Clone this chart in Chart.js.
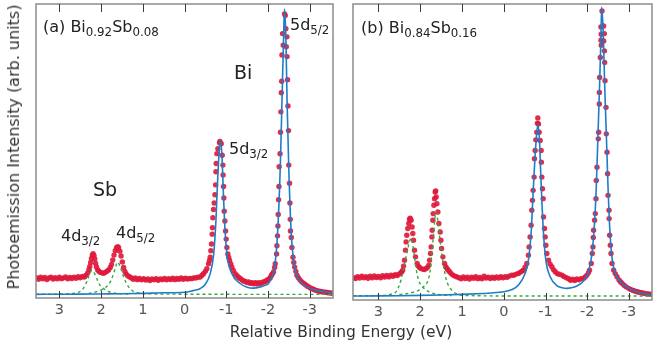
<!DOCTYPE html>
<html lang="en">
<head>
<meta charset="UTF-8">
<title>Bi-Sb photoemission</title>
<script src="https://cdn.jsdelivr.net/npm/chart.js"></script>
<style>
    body { margin: 0; background: #fff; font-family: 'DejaVu Sans', sans-serif; }
    #wrap { position: relative; width: 666px; height: 351px; overflow: hidden; }
    canvas { position: absolute; left: 0; top: 0; }
    .t { position: absolute; white-space: nowrap; color: #222; line-height: 1; }
    .t sub { font-size: 0.74em; vertical-align: -0.3em; line-height: 0; }
    .axis { color: #333; }
</style>
</head>
<body>
<div id="wrap">
    <canvas id="chartA" width="666" height="351"></canvas>
    <canvas id="chartB" width="666" height="351"></canvas>

    <div class="t" style="left:43px;top:19px;font-size:16px">(a) Bi<sub>0.92</sub>Sb<sub>0.08</sub></div>
    <div class="t" style="left:234px;top:63px;font-size:19px">Bi</div>
    <div class="t" style="left:290px;top:17px;font-size:16px">5d<sub>5/2</sub></div>
    <div class="t" style="left:229px;top:141px;font-size:16px">5d<sub>3/2</sub></div>
    <div class="t" style="left:93px;top:180px;font-size:19px">Sb</div>
    <div class="t" style="left:61px;top:228px;font-size:16px">4d<sub>3/2</sub></div>
    <div class="t" style="left:116px;top:225px;font-size:16px">4d<sub>5/2</sub></div>
    <div class="t" style="left:361px;top:20px;font-size:16px">(b) Bi<sub>0.84</sub>Sb<sub>0.16</sub></div>

    <div class="t axis" style="left:14px;top:147px;font-size:16px;transform:translate(-50%,-50%) rotate(-90deg)">Photoemission Intensity (arb. units)</div>
    <div class="t axis" style="left:341px;top:333px;font-size:15.5px;transform:translate(-50%,-50%)">Relative Binding Energy (eV)</div>
</div>

<script>
// tick labels of the energy axis (eV)
const xTicks = [3, 2, 1, 0, -1, -2, -3];

// ---- panel (a) Bi0.92Sb0.08 : [energy eV, intensity] ----
const aDots = [
    [3.55,20.5],[3.50,19],[3.45,21],[3.40,19.5],[3.35,20.8],[3.30,18.8],[3.25,20.2],[3.20,21.2],[3.15,19.2],[3.10,20.6],
    [3.05,19.4],[3.00,21],[2.95,19.6],[2.90,20.4],[2.85,21.4],[2.80,19.5],[2.75,20.8],[2.70,19.8],[2.65,21.2],[2.60,20],
    [2.55,21.5],[2.50,20.4],[2.45,21.8],[2.40,21.2],
    [2.36,23],[2.32,25.5],[2.29,29],[2.27,32],[2.25,36],[2.23,40],[2.21,43.5],[2.19,45],[2.17,43],[2.15,39.5],
    [2.13,35],[2.11,31.5],[2.08,28.5],[2.05,27],[2.02,26],[1.98,25.5],[1.94,25],[1.90,26],[1.86,27],[1.82,28.5],
    [1.78,31],[1.75,34],[1.72,38.5],[1.69,43.5],[1.66,48],[1.63,51],[1.60,52],[1.58,51],[1.55,47.5],[1.52,42.5],
    [1.49,36.5],[1.46,31],[1.43,27],[1.40,24.5],[1.36,22.5],[1.32,21.5],
    [1.28,20.5],[1.23,19],[1.18,20.2],[1.13,18.6],[1.08,19.8],[1.03,18.4],[0.98,19.6],[0.93,18.2],[0.88,19.4],[0.83,17.8],
    [0.78,19.2],[0.73,18.4],[0.68,19.6],[0.63,18],[0.58,19.4],[0.53,18.6],[0.48,19.8],[0.43,18.4],[0.38,19.6],[0.33,18.8],
    [0.28,20],[0.23,18.6],[0.18,19.8],[0.13,19],[0.08,20.2],[0.03,19],[-0.02,20],[-0.07,19.2],[-0.12,19.8],[-0.17,19.6],
    [-0.22,20.4],[-0.27,20.2],[-0.32,21],[-0.376,21.3],[-0.42,23],[-0.456,24.7],[-0.50,27],[-0.536,29.7],[-0.576,34.7],
    [-0.60,38],[-0.616,41.3],[-0.632,48],[-0.648,54.7],[-0.664,64.7],[-0.67,71.3],[-0.68,81.3],[-0.696,89.7],[-0.712,96.3],
    [-0.73,104.7],[-0.745,114.7],[-0.753,128],[-0.76,136.3],[-0.777,146.3],[-0.80,151.3],[-0.84,157.3],[-0.85,158.7],
    [-0.88,156.3],[-0.904,144.7],[-0.92,134.7],[-0.925,124.7],[-0.936,113],[-0.944,101.3],[-0.952,88],[-0.968,78],
    [-0.984,68],[-1.0,59.7],[-1.016,51.3],[-1.04,44.7],[-1.06,41],[-1.08,38],[-1.11,34.5],[-1.136,31.3],[-1.17,28],
    [-1.216,24.7],[-1.26,22.5],[-1.30,20.8],[-1.336,19.7],[-1.38,18.2],[-1.42,17.2],[-1.46,16.8],[-1.50,15.6],[-1.54,16.2],
    [-1.58,14.8],[-1.62,15.6],[-1.66,14.4],[-1.70,15.4],[-1.74,14.2],[-1.78,15.6],[-1.82,14.8],[-1.86,15.8],[-1.90,16.2],
    [-1.935,16.8],[-1.97,17.8],[-2.00,18.6],[-2.03,19.4],[-2.055,20.5],[-2.08,22.5],[-2.10,24],[-2.135,26.3],[-2.16,31],
    [-2.175,34.7],[-2.207,44.7],[-2.216,53],[-2.23,63],[-2.24,73],[-2.247,84.7],[-2.256,99.7],[-2.264,113],[-2.27,133],
    [-2.29,146.3],[-2.30,168],[-2.31,188.7],[-2.32,208],[-2.33,219.7],[-2.336,246.3],[-2.35,268],[-2.367,256.3],[-2.398,288],
    [-2.415,286.3],[-2.43,273],[-2.44,254.7],[-2.455,264.7],[-2.458,244.7],[-2.47,221.3],[-2.48,194.7],[-2.494,169.7],
    [-2.50,134.7],[-2.518,116.3],[-2.527,96.3],[-2.535,79.7],[-2.54,68],[-2.56,61.3],[-2.575,51.3],[-2.60,41.3],[-2.62,36],
    [-2.64,31.3],[-2.67,27],[-2.695,23],[-2.73,20.5],[-2.77,18.2],[-2.815,16.3],[-2.86,14.8],[-2.90,13.5],[-2.94,12.2],
    [-2.975,11.3],[-3.02,10.2],[-3.06,9.3],[-3.10,8.6],[-3.134,8],[-3.18,7.4],[-3.22,7],[-3.26,6.6],[-3.295,6.3],
    [-3.34,6],[-3.38,5.8],[-3.42,5.5],[-3.45,5.3],[-3.50,5],[-3.54,4.8]
];
const aFit = [
    [3.56,3.7],[3,3.8],[2.5,3.9],[2,4.1],[1.5,4.3],[1,4.7],[0.5,5.3],[0,5.8],[-0.2,7.5],[-0.38,9.7],[-0.5,14],
    [-0.616,24.7],[-0.70,44.7],[-0.753,78],[-0.785,111],[-0.825,144.7],[-0.856,159.7],[-0.897,144.7],[-0.928,111],
    [-0.96,78],[-1.016,44.7],[-1.136,24.7],[-1.336,14.7],[-1.5,11],[-1.655,10],[-1.8,11],[-1.9,12.5],[-2.015,14.7],
    [-2.1,22],[-2.16,31.3],[-2.23,64.7],[-2.295,131.3],[-2.336,198],[-2.376,264.7],[-2.398,293],[-2.43,264.7],
    [-2.46,198],[-2.50,131.3],[-2.56,64.7],[-2.64,31.3],[-2.72,20],[-2.815,14.7],[-3.0,10],[-3.134,8],[-3.35,6.3],[-3.55,5.3]
];
const aSb32 = [
    [3.56,3.8],[3.0,4],[2.7,4.5],[2.6,5],[2.54,5.8],[2.46,8],[2.38,13],[2.34,17],[2.30,21.3],[2.26,25.5],[2.22,28],
    [2.18,26.5],[2.14,23.5],[2.10,19.5],[2.06,15.5],[2.02,12.5],[1.96,10],[1.90,8.5],[1.82,6.5],[1.70,5.2],[1.55,4.4],[1.3,4]
];
const aSb52 = [
    [2.3,4.5],[2.1,6.5],[2.0,8],[1.90,10.5],[1.82,13.5],[1.76,18],[1.70,24.7],[1.65,31.5],[1.61,36.3],[1.57,34.5],
    [1.54,31.3],[1.50,26.5],[1.46,21.3],[1.40,15.5],[1.34,11.3],[1.28,8.5],[1.22,6.5],[1.14,5.3],[1.06,4.7],[0.8,4.2],
    [0.3,3.9],[-0.5,3.8],[-1.5,3.7],[-2.5,3.7],[-3.55,3.7]
];

// ---- panel (b) Bi0.84Sb0.16 : [energy eV, intensity] ----
const bDots = [
    [3.60,22.5],[3.55,21.5],[3.50,23.5],[3.45,22],[3.40,24],[3.35,22.2],[3.30,23.4],[3.25,21.8],[3.20,23.8],[3.15,22.4],
    [3.10,24.2],[3.05,22.6],[3.00,23.6],[2.95,22.2],[2.90,24.4],[2.85,23],[2.80,24.6],[2.75,23.2],[2.70,25],[2.65,23.8],
    [2.60,25.4],[2.55,24.6],[2.50,26.2],[2.46,27.5],
    [2.44,28.5],[2.418,30],[2.40,34],[2.377,40],[2.353,50],[2.338,58.3],[2.322,65],[2.298,71.7],[2.274,76.7],[2.257,81],
    [2.24,82],[2.218,80],[2.194,73.3],[2.178,66.7],[2.161,60],[2.137,50],[2.113,43.3],[2.074,36.7],[2.045,34],[2.017,32.7],
    [1.98,31.5],[1.938,31],[1.90,30.6],[1.858,31.7],[1.82,33],[1.793,35],[1.777,40],[1.753,46.7],[1.738,53.3],[1.721,63.3],
    [1.714,70],[1.697,80],[1.69,86.7],[1.673,95],[1.657,101.7],[1.642,108.3],[1.63,109.5],[1.618,103.3],[1.601,96.7],
    [1.577,88.3],[1.553,76.7],[1.522,68.3],[1.505,60],[1.489,51.7],[1.457,43.3],[1.417,36.7],[1.39,33.5],[1.361,31.7],
    [1.33,29.8],[1.297,28.3],[1.26,26.5],[1.217,25],[1.17,24],[1.12,23.2],
    [1.07,22.4],[1.02,21.2],[0.97,23.2],[0.92,21.6],[0.87,22.8],[0.82,21],[0.77,23],[0.72,21.8],[0.67,23.4],[0.62,21.4],
    [0.57,22.6],[0.52,21.2],[0.47,23.8],[0.42,22],[0.37,23],[0.32,21.6],[0.27,22.8],[0.22,21.8],[0.17,23.2],[0.12,22],
    [0.07,23.4],[0.02,22.2],[-0.031,23.3],[-0.08,22.8],[-0.13,24],[-0.192,25],[-0.24,24.8],[-0.30,26],[-0.351,26.7],
    [-0.40,28],[-0.44,29],[-0.471,30],[-0.51,33],[-0.552,36.7],[-0.591,45],[-0.607,53.3],[-0.631,63.3],[-0.655,75],
    [-0.672,90],[-0.687,100],[-0.703,110],[-0.727,123.3],[-0.735,141.7],[-0.751,150],[-0.768,160.7],[-0.792,168.3],
    [-0.807,177.3],[-0.816,182.7],
    [-0.831,176.7],[-0.848,168.3],[-0.872,160],[-0.896,150],[-0.90,138.3],[-0.912,123.3],[-0.928,111.7],[-0.944,101.7],
    [-0.952,83.3],[-0.976,71.7],[-0.992,63.3],[-1.008,55],[-1.032,46.7],[-1.072,40],[-1.11,36],[-1.152,33.3],[-1.19,30.5],
    [-1.232,28.3],[-1.28,26.5],[-1.33,25.8],[-1.393,25],[-1.44,23.6],[-1.50,22.4],[-1.553,21.3],[-1.60,19.8],[-1.65,20.8],
    [-1.70,19.6],[-1.75,21],[-1.80,20.2],[-1.85,21.4],[-1.911,21.7],[-1.95,23.2],[-1.993,25],[-2.03,27.5],[-2.055,30],
    [-2.096,36.7],[-2.12,46.7],[-2.136,53.3],[-2.144,62.7],[-2.152,70],[-2.176,80],[-2.192,86.7],[-2.209,101.7],
    [-2.216,120],[-2.233,133.3],[-2.264,161.7],[-2.272,168.3],[-2.288,196.7],[-2.29,208.3],[-2.296,223.3],[-2.312,243.3],
    [-2.336,255.7],[-2.329,260.7],[-2.334,266.7],[-2.327,274],[-2.353,290],
    [-2.391,275],[-2.408,267.3],[-2.393,260],[-2.410,250],[-2.416,238.3],[-2.425,220],[-2.449,193.3],[-2.456,166.7],
    [-2.473,148.3],[-2.487,126.7],[-2.497,105],[-2.521,90],[-2.523,81.7],[-2.536,65],[-2.552,55],[-2.569,46.7],
    [-2.593,36.7],[-2.632,30],[-2.67,26.5],[-2.713,23.3],[-2.76,20],[-2.80,18],[-2.833,16.7],[-2.88,14.8],[-2.93,13.2],
    [-2.992,11.7],[-3.04,10.6],[-3.10,9.6],[-3.15,8.9],[-3.193,8.3],[-3.24,7.8],[-3.30,7.2],[-3.352,6.7],[-3.41,6.3],
    [-3.472,6],[-3.53,5.8]
];
const bFit = [
    [3.61,4],[3,4.1],[2.5,4.3],[2,4.6],[1.5,5],[1,5.6],[0.5,6.5],[0.3,7],[0,8.3],[-0.2,10.5],[-0.351,15],[-0.511,26.7],
    [-0.591,40],[-0.655,66.7],[-0.695,100],[-0.735,133.3],[-0.776,160],[-0.816,176],[-0.856,160],[-0.88,133.3],
    [-0.912,100],[-0.952,66.7],[-1.008,40],[-1.112,23.3],[-1.272,14.5],[-1.4,12.3],[-1.51,11.7],[-1.62,12.2],[-1.75,14],
    [-1.911,19],[-2.031,28.3],[-2.113,46.7],[-2.168,73.3],[-2.216,113.3],[-2.257,166.7],[-2.296,216.7],[-2.329,266.7],
    [-2.345,294],[-2.384,266.7],[-2.416,216.7],[-2.456,166.7],[-2.497,113.3],[-2.545,66.7],[-2.6,40],[-2.672,26.7],
    [-2.792,18.3],[-2.99,11.7],[-3.272,7.3],[-3.55,5]
];
const bSb32 = [
    [3.61,4.2],[3.0,4.5],[2.8,5],[2.7,5.8],[2.61,7],[2.54,11],[2.49,16],[2.45,22],[2.41,29],[2.37,37],[2.33,45],
    [2.29,53],[2.25,59.5],[2.22,62],[2.19,58],[2.16,50],[2.13,41],[2.10,32],[2.07,25],[2.04,20],[1.99,15.5],[1.93,12.5],
    [1.86,10],[1.78,8],[1.68,6.5],[1.55,5.5],[1.4,4.8],[1.25,4.5]
];
const bSb52 = [
    [2.5,5.5],[2.3,6.5],[2.15,8],[2.05,9.5],[1.97,11.7],[1.88,15],[1.81,20],[1.76,30],[1.729,43.3],[1.70,57],[1.673,70],
    [1.645,83],[1.62,88],[1.595,84],[1.57,76.7],[1.54,65],[1.505,53.3],[1.465,40],[1.426,30],[1.38,21],[1.33,15],
    [1.27,11],[1.21,8.3],[1.13,6.3],[1.05,5],[0.8,4.4],[0.3,4.1],[-0.5,4],[-1.5,4],[-2.5,4],[-3.55,4]
];

Chart.defaults.font.family = "'DejaVu Sans', sans-serif";
Chart.defaults.font.size = 14;

const toXY = arr => arr.map(([x, y]) => ({ x, y }));

const framePlugin = {
    id: 'frame',
    afterDatasetsDraw(chart) {
        const { ctx, chartArea: a } = chart;
        const x = chart.scales.x;
        ctx.save();
        ctx.strokeStyle = '#8c8c8c';
        ctx.lineWidth = 1.5;
        ctx.strokeRect(a.left, a.top, a.right - a.left, a.bottom - a.top);
        ctx.strokeStyle = '#3a3a3a';
        ctx.lineWidth = 1;
        x.ticks.forEach(t => {
            const px = Math.round(x.getPixelForValue(t.value)) + 0.5;
            ctx.beginPath();
            ctx.moveTo(px, a.bottom);
            ctx.lineTo(px, a.bottom - 7);
            ctx.moveTo(px, a.top);
            ctx.lineTo(px, a.top + 8);
            ctx.stroke();
        });
        ctx.restore();
    }
};

function makePanel(id, dots, fit, sb32, sb52, xmin, xmax, ymax, pad) {
    const green = { showLine: true, borderColor: '#2eab3c', borderWidth: 1.4, borderDash: [3, 3],
                    pointRadius: 0, cubicInterpolationMode: 'monotone', order: 2 };
    new Chart(document.getElementById(id), {
        type: 'scatter',
        data: {
            datasets: [
                { data: toXY(fit), showLine: true, borderColor: '#1f7cc6', borderWidth: 1.6,
                  pointRadius: 0, cubicInterpolationMode: 'monotone', order: 1 },
                Object.assign({ data: toXY(sb32) }, green),
                Object.assign({ data: toXY(sb52) }, green),
                { data: toXY(dots), pointRadius: 2.7, backgroundColor: 'rgba(222,26,60,0.92)',
                  borderWidth: 0, order: 3 }
            ]
        },
        options: {
            responsive: false,
            animation: false,
            devicePixelRatio: 1,
            layout: { padding: pad },
            plugins: { legend: { display: false }, tooltip: { enabled: false } },
            scales: {
                x: {
                    type: 'linear', reverse: true, min: xmin, max: xmax,
                    afterBuildTicks: s => { s.ticks = xTicks.map(v => ({ value: v })); },
                    afterFit: s => { s.height = 22; },
                    grid: { display: false, drawTicks: false },
                    border: { display: false },
                    ticks: { color: '#555', padding: 4, font: { size: 14.5 } }
                },
                y: { display: false, min: 0, max: ymax }
            }
        },
        plugins: [framePlugin]
    });
}

makePanel('chartA', aDots, aFit, aSb32, aSb52, -3.56, 3.56, 298, { left: 36, right: 333, top: 0, bottom: 31 });
makePanel('chartB', bDots, bFit, bSb32, bSb52, -3.55, 3.61, 297, { left: 353, right: 14, top: 3, bottom: 29 });
</script>
</body>
</html>
